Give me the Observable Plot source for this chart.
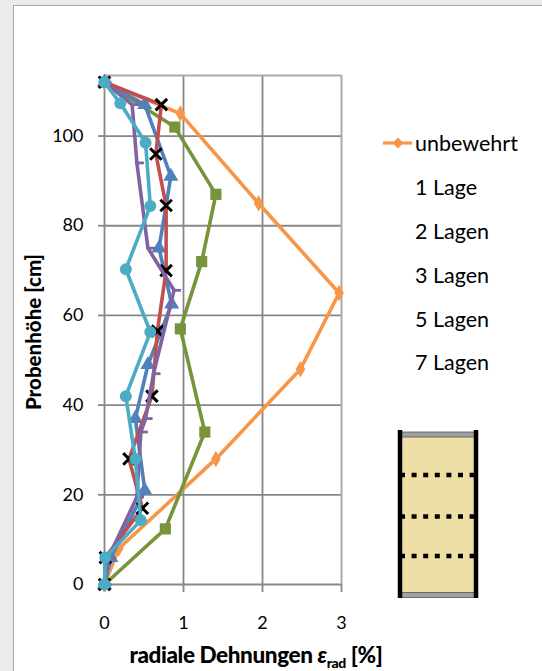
<!DOCTYPE html>
<html><head><meta charset="utf-8">
<script src="https://cdn.jsdelivr.net/npm/d3@7"></script>
<script src="https://cdn.jsdelivr.net/npm/@observablehq/plot@0.6"></script>
<style>
body{margin:0;background:#ebebeb;width:542px;height:671px;overflow:hidden;position:relative;font-family:Lato,"Open Sans",sans-serif;}
#panel{position:absolute;left:13px;top:5px;width:600px;height:700px;background:#fff;border:1.5px solid #a8a8a8;box-sizing:border-box;}
#chart{position:absolute;left:0;top:0;}
.abs{position:absolute;white-space:nowrap;color:#000;}
.leg{font-size:21.5px;left:415px;transform:translateY(-50%);}
#ytitle{left:33px;top:332px;font-weight:900;font-size:20.5px;transform:translate(-50%,-50%) rotate(-90deg);}
#xtitle{left:256px;top:656px;font-weight:900;font-size:22.5px;transform:translate(-50%,-50%);letter-spacing:-0.4px;}
#xtitle sub{font-size:14px;vertical-align:-5px;}
</style></head>
<body>
<div id="panel"></div>
<div id="chart"></div>
<div class="abs" id="ytitle">Probenhöhe [cm]</div>
<div class="abs" id="xtitle">radiale Dehnungen <i>ε</i><sub>rad</sub> [%]</div>
<div id="legend"></div>
<script>
// ---- data ----
const seriesNames = ["unbewehrt", "1 Lage", "2 Lagen", "3 Lagen", "5 Lagen", "7 Lagen"];
const seriesColors = ["#F79646", "#77933C", "#C0504D", "#4F81BD", "#8064A2", "#4BACC6"];

const unbewehrtX = [0, 0.18, 1.41, 2.48, 2.97, 1.95, 0.96, 0];
const unbewehrtY = [0, 8, 28, 48, 65, 85, 105, 112];

const lage1X = [0, 0.77, 1.27, 0.96, 1.23, 1.41, 0.89, 0];
const lage1Y = [0, 12.4, 34, 57, 72, 87, 102, 112];

const lagen2X = [0, 0.01, 0.48, 0.31, 0.60, 0.67, 0.78, 0.78, 0.65, 0.72, 0];
const lagen2Y = [0, 6, 17, 28, 42, 56.5, 70, 84.5, 96, 107, 112];

const lagen3X = [0, 0.08, 0.51, 0.39, 0.55, 0.85, 0.69, 0.84, 0.51, 0];
const lagen3Y = [0, 6, 21, 37, 49, 62.5, 75, 91, 107, 112];

const lagen5X = [0, 0.05, 0.41, 0.46, 0.52, 0.62, 0.88, 0.55, 0.41, 0.35, 0];
const lagen5Y = [0, 6, 19.5, 34, 37, 47, 65.6, 75, 94, 107, 112];

const lagen7X = [0, 0.01, 0.46, 0.39, 0.27, 0.58, 0.27, 0.58, 0.52, 0.2, 0];
const lagen7Y = [0, 6, 14.3, 28, 42, 56.3, 70.3, 84.4, 98.5, 107.3, 112];

const xTicks = [0, 1, 2, 3];
const yTicks = [0, 20, 40, 60, 80, 100];
const yMax = 113.5;

// ---- build table ----
const seriesXs = [unbewehrtX, lage1X, lagen2X, lagen3X, lagen5X, lagen7X];
const seriesYs = [unbewehrtY, lage1Y, lagen2Y, lagen3Y, lagen5Y, lagen7Y];
const tables = seriesNames.map((s, i) => seriesXs[i].map((x, j) => ({series: s, x, y: seriesYs[i][j]})));

const dashSymbol = {draw(ctx, size) { const w = Math.sqrt(size) * 0.9; ctx.rect(-w * 0.2, -1.4, w, 2.8); }};

const markerSpec = [
  {symbol: "diamond", r: 5, fill: seriesColors[0]},
  {symbol: "square", r: 6.3, fill: seriesColors[1]},
  {symbol: "times", r: 5.3, fill: "none", stroke: "#000", strokeWidth: 3},
  {symbol: "triangle", r: 5.6, fill: seriesColors[3]},
  {symbol: dashSymbol, r: 5.5, fill: seriesColors[4]},
  {symbol: "circle", r: 6, fill: seriesColors[5]}
];
const drawOrder = [0, 1, 3, 2, 4, 5];

const seriesMarks = drawOrder.flatMap(i => [
  Plot.line(tables[i], {x: "x", y: "y", stroke: seriesColors[i], strokeWidth: 3.6}),
  Plot.dot(tables[i], {x: "x", y: "y", ...markerSpec[i]})
]);

const chart = Plot.plot({
  width: 542, height: 671,
  marginLeft: 104, marginRight: 201, marginTop: 75, marginBottom: 87,
  x: {domain: [0, 3]},
  y: {domain: [0, yMax]},
  style: {fontFamily: "Lato, 'Open Sans', sans-serif", fontSize: "18px", background: "transparent", overflow: "visible", color: "#000"},
  marks: [
    Plot.ruleY(yTicks, {stroke: "#878787", strokeWidth: 1.8}),
    Plot.ruleX(xTicks.slice(0, 3), {stroke: "#878787", strokeWidth: 1.8}),
    Plot.ruleY([yMax], {stroke: "#ababab", strokeWidth: 2}),
    Plot.ruleX([3], {stroke: "#ababab", strokeWidth: 2}),
    Plot.axisX({ticks: xTicks, tickSize: 8, tickPadding: 24, stroke: "#878787", strokeWidth: 1.8, fill: "#000", label: null, tickFormat: d => String(d)}),
    Plot.axisY({ticks: yTicks, tickSize: 6, tickPadding: 15, stroke: "#878787", strokeWidth: 1.8, fill: "#000", label: null, tickFormat: d => String(d)}),
    ...seriesMarks
  ]
});
document.getElementById("chart").appendChild(chart);

// ---- legend ----
const legendYs = [143, 187, 231, 275, 319, 362];
const leg = document.getElementById("legend");
seriesNames.forEach((s, i) => {
  const d = document.createElement("div");
  d.className = "abs leg";
  d.style.top = legendYs[i] + "px";
  d.textContent = s;
  leg.appendChild(d);
});
const NS = "http://www.w3.org/2000/svg";
const deco = document.createElementNS(NS, "svg");
deco.setAttribute("width", 542); deco.setAttribute("height", 671);
deco.style.position = "absolute"; deco.style.left = "0"; deco.style.top = "0";
deco.innerHTML = `
  <line x1="383" y1="143" x2="412" y2="143" stroke="${seriesColors[0]}" stroke-width="3.2"/>
  <path d="M398,137.5L403.5,143L398,148.5L392.5,143Z" fill="${seriesColors[0]}"/>
  <rect x="400" y="433" width="77" height="163" fill="#EEDFA6"/>
  <rect x="401" y="432" width="75" height="5" fill="#a0a0a0" stroke="#555" stroke-width="0.8"/>
  <rect x="401" y="592.5" width="75" height="5" fill="#a0a0a0" stroke="#555" stroke-width="0.8"/>
  <line x1="400" y1="430" x2="400" y2="598" stroke="#000" stroke-width="4.5"/>
  <line x1="476" y1="430" x2="476" y2="598" stroke="#000" stroke-width="4.5"/>
  <line x1="400" y1="475" x2="478" y2="475" stroke="#000" stroke-width="4.5" stroke-dasharray="5 6.6"/>
  <line x1="400" y1="516.5" x2="478" y2="516.5" stroke="#000" stroke-width="4.5" stroke-dasharray="5 6.6"/>
  <line x1="400" y1="556" x2="478" y2="556" stroke="#000" stroke-width="4.5" stroke-dasharray="5 6.6"/>
`;
document.body.appendChild(deco);
</script>
</body></html>
